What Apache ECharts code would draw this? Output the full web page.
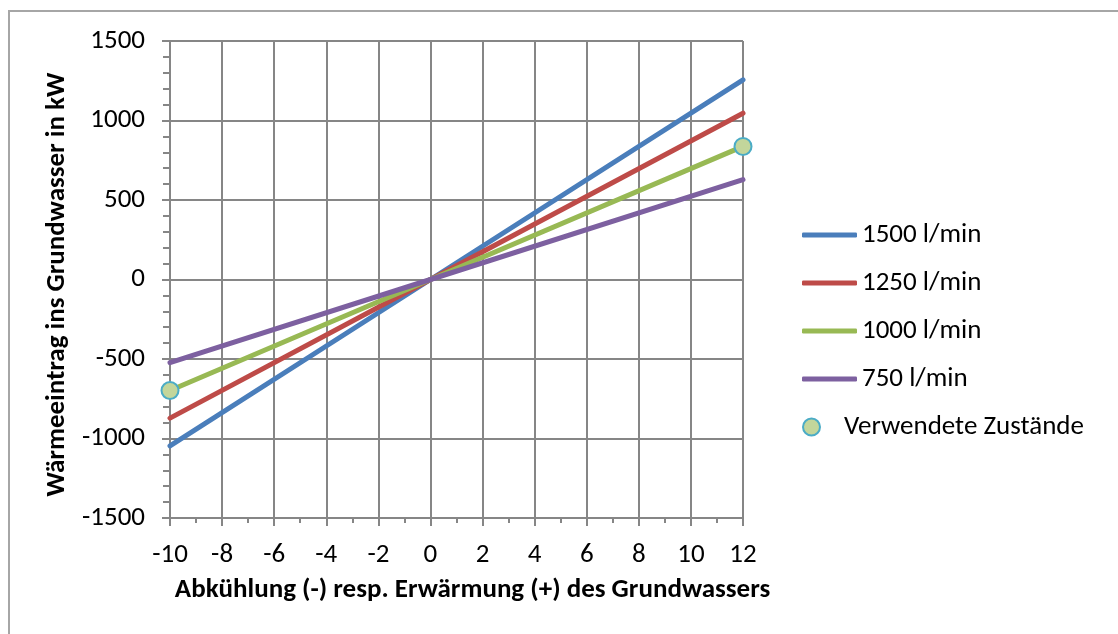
<!DOCTYPE html>
<html>
<head>
<meta charset="utf-8">
<script src="https://cdn.jsdelivr.net/npm/echarts@6/dist/echarts.min.js"></script>
<style>
html,body{margin:0;padding:0;background:#fff;}
#chart{width:1118px;height:634px;}
</style>
</head>
<body>
<div id="chart"></div>
<script>
var seriesNames = ['1500 l/min', '1250 l/min', '1000 l/min', '750 l/min'];
var xPoints = [-10, 0, 12];
var flow1500 = [-1046, 0, 1256];
var flow1250 = [-872, 0, 1046];
var flow1000 = [-698, 0, 837];
var flow750 = [-523, 0, 628];
var usedStatesX = [-10, 12];
var usedStatesY = [-698, 837];
var markerName = 'Verwendete Zustände';
var xTitle = 'Abkühlung (-) resp. Erwärmung (+) des Grundwassers';
var yTitle = 'Wärmeeintrag ins Grundwasser in kW';

var colors = ['#4a7ebb', '#be4b48', '#98b954', '#7d60a0'];
var FONT = 'Carlito, Lato, sans-serif';
var FS = 27;

function pairs(xs, ys) { return xs.map(function (x, i) { return [x, ys[i]]; }); }

var lineData = [flow1500, flow1250, flow1000, flow750];
var series = lineData.map(function (d, i) {
  return {
    name: seriesNames[i], type: 'line', data: pairs(xPoints, d),
    symbol: 'none', smooth: false,
    lineStyle: { color: colors[i], width: 5, cap: 'round' },
    itemStyle: { color: colors[i] },
    z: 3, silent: true
  };
});
series.push({
  name: markerName, type: 'scatter', data: pairs(usedStatesX, usedStatesY),
  symbol: 'circle', symbolSize: 17, clip: false,
  itemStyle: { color: '#c3d69b', borderColor: '#4bacc6', borderWidth: 2, opacity: 1 },
  z: 5
});

var axisGray = '#868686';
var chart = echarts.init(document.getElementById('chart'), null, { renderer: 'canvas' });
chart.setOption({
  animation: false,
  backgroundColor: '#fff',
  graphic: [{
    type: 'rect', shape: { x: 9, y: 11, width: 1300, height: 800 },
    style: { fill: 'none', stroke: '#a6a6a6', lineWidth: 2 }, silent: true, z: -10
  }],
  grid: { left: 170, right: 375, top: 41, bottom: 116, containLabel: false },
  legend: [{
    orient: 'vertical', left: 797, top: 215,
    itemWidth: 55, itemHeight: 5, itemGap: 18,
    icon: 'roundRect',
    textStyle: { fontFamily: FONT, fontSize: FS, color: '#000', lineHeight: 30 },
    data: seriesNames.slice()
  }, {
    orient: 'vertical', left: 797, top: 407,
    itemWidth: 55, itemHeight: 17,
    icon: 'circle',
    textStyle: { fontFamily: FONT, fontSize: FS, color: '#000', lineHeight: 30 },
    data: [markerName]
  }],
  xAxis: {
    type: 'value', min: -10, max: 12, interval: 2,
    name: xTitle, nameLocation: 'middle', nameGap: 59,
    nameTextStyle: { fontFamily: FONT, fontSize: FS, fontWeight: 'bold', color: '#000', padding: [0, 0, 0, 32] },
    axisLine: { show: true, onZero: false, lineStyle: { color: axisGray, width: 2 } },
    axisTick: { show: true, length: 8, lineStyle: { color: axisGray, width: 2 } },
    minorTick: { show: true, splitNumber: 2, length: 5, lineStyle: { color: axisGray, width: 2 } },
    axisLabel: { fontFamily: FONT, fontSize: FS, color: '#000', margin: 24, formatter: function (v) { return String(v); } },
    splitLine: { show: true, lineStyle: { color: axisGray, width: 2 } }
  },
  yAxis: {
    type: 'value', min: -1500, max: 1500, interval: 500,
    name: yTitle, nameLocation: 'middle', nameGap: 96, nameRotate: 90,
    nameTextStyle: { fontFamily: FONT, fontSize: FS, fontWeight: 'bold', color: '#000', padding: [0, 10, 0, 0] },
    axisLine: { show: true, onZero: false, lineStyle: { color: axisGray, width: 2 } },
    axisTick: { show: true, length: 8, lineStyle: { color: axisGray, width: 2 } },
    minorTick: { show: true, splitNumber: 5, length: 7, lineStyle: { color: axisGray, width: 2 } },
    axisLabel: { fontFamily: FONT, fontSize: FS, color: '#000', margin: 25, formatter: function (v) { return String(v); } },
    splitLine: { show: true, lineStyle: { color: axisGray, width: 2 } }
  },
  series: series
});
</script>
</body>
</html>
